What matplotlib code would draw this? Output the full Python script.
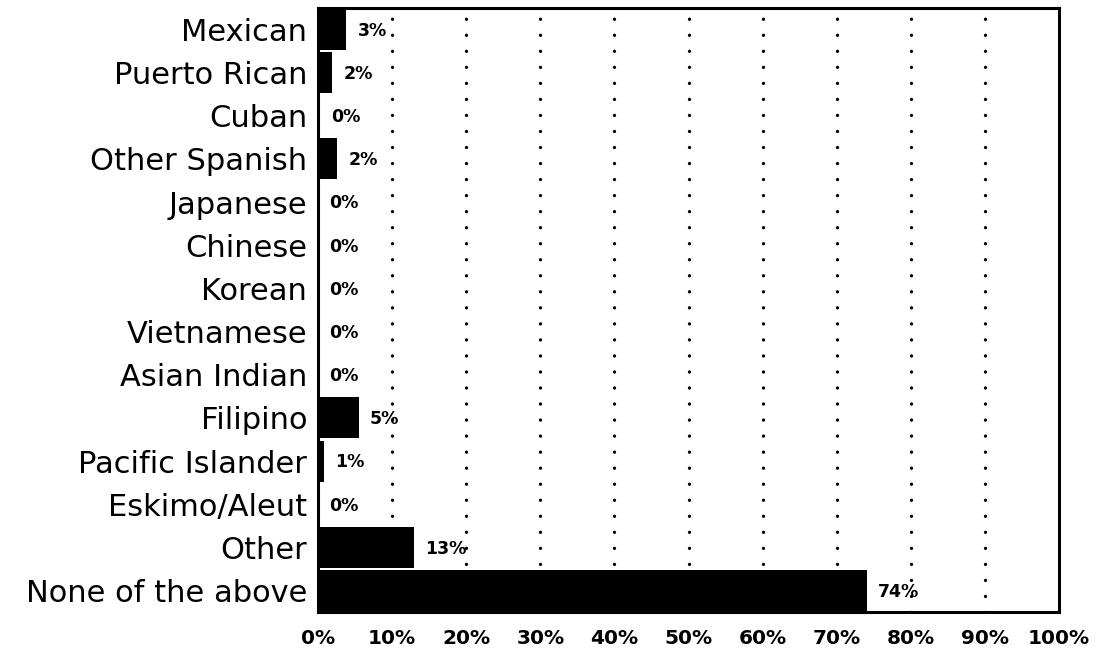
import matplotlib.pyplot as plt
import numpy as np

categories = ["Mexican", "Puerto Rican", "Cuban", "Other Spanish", "Japanese", "Chinese",
              "Korean", "Vietnamese", "Asian Indian", "Filipino", "Pacific Islander",
              "Eskimo/Aleut", "Other", "None of the above"]
values = [3.8, 1.9, 0.2, 2.6, 0, 0, 0, 0, 0, 5.5, 0.8, 0, 13.0, 74.1]
value_labels = ["3%", "2%", "0%", "2%", "0%", "0%", "0%", "0%", "0%", "5%", "1%", "0%", "13%", "74%"]
x_ticks = [0, 10, 20, 30, 40, 50, 60, 70, 80, 90, 100]

fig = plt.figure(figsize=(10.97, 6.56), dpi=100)
ax = fig.add_axes([0.290, 0.067, 0.6754, 0.921])

y = np.arange(len(categories))
ax.barh(y, values, height=0.95, color="black", zorder=2)

# dotted gridlines (only interior ones)
for xv in x_ticks[1:-1]:
    ax.axvline(xv, color="black", linewidth=2.4, linestyle=(0, (0.01, 4.8)),
               dash_capstyle="round", zorder=1)

for yi, v, lab in zip(y, values, value_labels):
    ax.annotate(lab, (v, yi), xytext=(8, -1), textcoords="offset points",
                ha="left", va="center", fontsize=12.5, fontweight="bold", color="black")

ax.set_xlim(0, 100)
ax.set_ylim(len(categories) - 0.5, -0.5)
ax.set_yticks(y)
ax.set_yticklabels(categories, fontsize=22)
ax.set_xticks(x_ticks)
ax.set_xticklabels([f"{t}%" for t in x_ticks], fontsize=14.5, fontweight="bold")
ax.tick_params(axis="y", length=0, pad=8)
ax.tick_params(axis="x", length=0, pad=12)

for s in ax.spines.values():
    s.set_linewidth(2.2)
    s.set_color("black")

fig.savefig("out.png", dpi=100)
